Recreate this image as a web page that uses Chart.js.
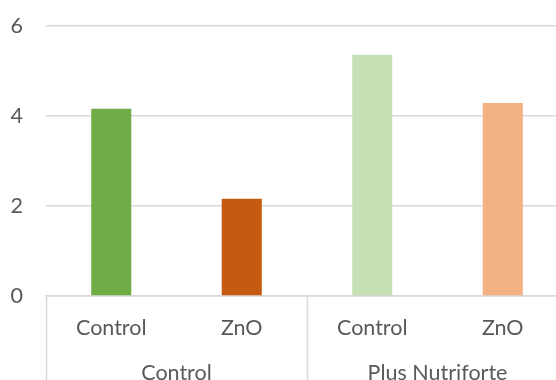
<!DOCTYPE html>
<html>
<head>
<meta charset="utf-8">
<script src="https://cdn.jsdelivr.net/npm/chart.js@4.4.1/dist/chart.umd.min.js"></script>
<style>
  html, body { margin: 0; padding: 0; background: #fff; overflow: hidden; }
  #wrap { width: 570px; height: 400px; position: relative; }
</style>
</head>
<body>
<div id="wrap"><canvas id="c" width="570" height="400"></canvas></div>
<script>
// Treatments (inner axis level) and supplement groups (outer axis level)
const treatments = ['Control', 'ZnO', 'Control', 'ZnO'];
const groups = ['Control', 'Plus Nutriforte'];
const values = [4.16, 2.16, 5.36, 4.29];
const barColors = ['#70AD47', '#C55A11', '#C5E0B4', '#F4B183'];
const yTicks = [0, 2, 4, 6];

const textColor = '#595959';
const lineColor = '#d9d9d9';
const fontFamily = 'Lato, "Open Sans", sans-serif';
const fontSize = 21.5;

// Vertical separators between the outer groups, below the plot area
const groupSeparators = {
  id: 'groupSeparators',
  afterDraw(chart) {
    const x = chart.scales.x;
    const ctx = chart.ctx;
    const step = x.getPixelForValue(1) - x.getPixelForValue(0);
    const per = treatments.length / groups.length;
    ctx.save();
    ctx.strokeStyle = lineColor;
    ctx.lineWidth = 1.5;
    for (let i = 0; i <= treatments.length; i += per) {
      const px = Math.round(x.getPixelForValue(0) + (i - 0.5) * step) + 0.5;
      ctx.beginPath();
      ctx.moveTo(px, chart.chartArea.bottom);
      ctx.lineTo(px, chart.height);
      ctx.stroke();
    }
    ctx.restore();
  }
};

new Chart(document.getElementById('c'), {
  type: 'bar',
  data: {
    labels: treatments,
    datasets: [{
      data: values,
      backgroundColor: barColors,
      borderWidth: 0,
      barPercentage: 0.307,
      categoryPercentage: 1.0
    }]
  },
  options: {
    responsive: false,
    animation: false,
    events: [],
    layout: { padding: { top: 26, left: 0, right: 2, bottom: 0 } },
    plugins: { legend: { display: false }, tooltip: { enabled: false } },
    scales: {
      y: {
        min: 0,
        max: 6,
        afterBuildTicks(scale) { scale.ticks = yTicks.map(v => ({ value: v })); },
        afterFit(scale) { scale.width = 46; },
        border: { display: false },
        grid: { color: lineColor, lineWidth: 1.5, drawTicks: true, tickLength: 23, tickColor: 'rgba(0,0,0,0)' },
        ticks: { color: textColor, padding: 0, font: { family: fontFamily, size: fontSize } }
      },
      x: {
        weight: 0,
        afterFit(scale) { scale.height = 56; },
        border: { display: true, color: lineColor, width: 1.5 },
        grid: { display: false },
        ticks: { color: textColor, padding: 11, maxRotation: 0, autoSkip: false, font: { family: fontFamily, size: fontSize } }
      },
      x2: {
        type: 'category',
        position: 'bottom',
        weight: 1,
        labels: groups,
        offset: true,
        afterFit(scale) { scale.height = 48; },
        border: { display: false },
        grid: { display: false },
        ticks: { color: textColor, padding: 0, maxRotation: 0, autoSkip: false, font: { family: fontFamily, size: fontSize } }
      }
    }
  },
  plugins: [groupSeparators]
});
</script>
</body>
</html>
